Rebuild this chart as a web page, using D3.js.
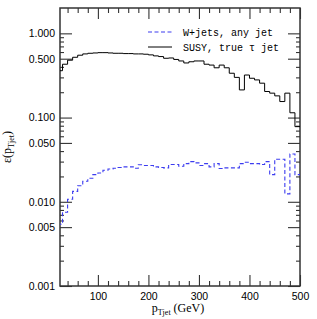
<!DOCTYPE html>
<html>
<head>
<meta charset="utf-8">
<script src="https://cdn.jsdelivr.net/npm/d3@7"></script>
<style>
  body { margin: 0; background: #fff; }
  svg text { fill: #000; }
  .tk text { font-family: "Liberation Sans", Arial, sans-serif; font-size: 10.5px; }
  .tk path { display: none; }
  .tk line { stroke: #333; stroke-width: 1.1; }
</style>
</head>
<body>
<div id="chart"></div>
<script>
// bin lower edges (GeV), 10 GeV wide
var binLow = [20, 30, 40, 50, 60, 70, 80, 90, 100, 110, 120, 130, 140, 150, 160, 170,
              180, 190, 200, 210, 220, 230, 240, 250, 260, 270, 280, 290, 300, 310, 320, 330,
              340, 350, 360, 370, 380, 390, 400, 410, 420, 430, 440, 450, 460, 470, 480, 490];
var binWidth = 10;

var wjets = [0.0054, 0.0075, 0.0107, 0.0133, 0.0155, 0.0175, 0.019, 0.021, 0.022, 0.0237, 0.0245, 0.025, 0.0255, 0.026, 0.026, 0.025,
             0.0275, 0.027, 0.027, 0.026, 0.0255, 0.0253, 0.0277, 0.0277, 0.0264, 0.0284, 0.030, 0.029, 0.027, 0.0284, 0.026, 0.0284,
             0.0248, 0.0253, 0.0253, 0.0253, 0.0284, 0.0295, 0.0284, 0.0284, 0.0277, 0.030, 0.021, 0.032, 0.032, 0.0124, 0.037, 0.021];

var susy = [0.36, 0.43, 0.48, 0.52, 0.55, 0.57, 0.58, 0.585, 0.59, 0.59, 0.585, 0.58, 0.58, 0.575, 0.575, 0.57,
            0.57, 0.565, 0.555, 0.54, 0.53, 0.506, 0.51, 0.49, 0.47, 0.445, 0.46, 0.47, 0.47, 0.43, 0.42, 0.39,
            0.42, 0.39, 0.336, 0.30, 0.213, 0.32, 0.293, 0.28, 0.256, 0.204, 0.195, 0.181, 0.155, 0.195, 0.114, 0.078];

var xMajor = [100, 200, 300, 400, 500];
var xMinor = [40, 60, 80, 120, 140, 160, 180, 220, 240, 260, 280, 320, 340, 360, 380, 420, 440, 460, 480];
var yLabelled = [0.001, 0.005, 0.01, 0.05, 0.1, 0.5, 1];
var yMinor = [0.002, 0.003, 0.004, 0.006, 0.007, 0.008, 0.009,
              0.02, 0.03, 0.04, 0.06, 0.07, 0.08, 0.09,
              0.2, 0.3, 0.4, 0.6, 0.7, 0.8, 0.9];

var legendNames = ["W+jets, any jet", "SUSY, true \u03c4 jet"];

var W = 317, H = 319;
var margin = {left: 60, right: 17, top: 8, bottom: 33};
var iw = W - margin.left - margin.right, ih = H - margin.top - margin.bottom;

var svg = d3.select("#chart").append("svg").attr("width", W).attr("height", H);
var g = svg.append("g").attr("transform", "translate(" + margin.left + "," + margin.top + ")");

var x = d3.scaleLinear().domain([25, 500]).range([0, iw]);
var y = d3.scaleLog().domain([0.001, 2]).range([ih, 0]);

svg.append("defs").append("clipPath").attr("id", "clip")
  .append("rect").attr("width", iw).attr("height", ih);

// axes: ticks drawn inward on all four sides
function addAxis(axis, tr, vals, size, labels) {
  var a = axis.tickValues(vals).tickSize(-size).tickPadding(labels ? 5 : 0);
  if (!labels) a.tickFormat("");
  var ag = g.append("g").attr("class", "tk").attr("transform", tr).call(a);
  return ag;
}
addAxis(d3.axisLeft(y), null, yMinor, 4, false);
addAxis(d3.axisLeft(y).tickFormat(d3.format(".3f")), null, yLabelled, 12, true);
addAxis(d3.axisRight(y), "translate(" + iw + ",0)", yMinor, 4, false);
addAxis(d3.axisRight(y), "translate(" + iw + ",0)", yLabelled, 12, false);
addAxis(d3.axisBottom(x), "translate(0," + ih + ")", xMinor, 5, false);
var bx = addAxis(d3.axisBottom(x).tickFormat(d3.format("d")), "translate(0," + ih + ")", xMajor, 11, true);
bx.selectAll("text").attr("y", 7);
addAxis(d3.axisTop(x), null, xMinor, 5, false);
addAxis(d3.axisTop(x), null, xMajor, 11, false);

g.append("rect").attr("width", iw).attr("height", ih)
  .attr("fill", "none").attr("stroke", "#333").attr("stroke-width", 1.5);

// histograms
var step = d3.line().curve(d3.curveStepAfter)
  .x(function(d) { return x(d[0]); })
  .y(function(d) { return y(d[1]); });

function histPts(vals) {
  var pts = binLow.map(function(b, i) { return [b, vals[i]]; });
  pts.push([binLow[binLow.length - 1] + binWidth, vals[vals.length - 1]]);
  return pts;
}

var plot = g.append("g").attr("clip-path", "url(#clip)");
plot.append("path").attr("d", step(histPts(wjets)))
  .attr("fill", "none").attr("stroke", "#3c3cf0").attr("stroke-width", 1.1)
  .attr("stroke-dasharray", "4,2.5");
plot.append("path").attr("d", step(histPts(susy)))
  .attr("fill", "none").attr("stroke", "#000").attr("stroke-width", 1);

// legend
var leg = svg.append("g").attr("transform", "translate(148,32)");
leg.append("line").attr("x1", 0).attr("x2", 24).attr("y1", 0).attr("y2", 0)
  .attr("stroke", "#3c3cf0").attr("stroke-width", 1.1).attr("stroke-dasharray", "4,2.5");
leg.append("line").attr("x1", 0).attr("x2", 24).attr("y1", 15).attr("y2", 15)
  .attr("stroke", "#000").attr("stroke-width", 1);
leg.selectAll("text.lg").data(legendNames).enter().append("text")
  .attr("class", "lg")
  .attr("x", 35).attr("y", function(d, i) { return i * 15 + 3.5; })
  .style("font-family", "'Liberation Mono', 'Courier New', monospace")
  .style("font-size", "10px")
  .text(function(d) { return d; });

// axis titles
var serif = "'Liberation Serif', 'Times New Roman', serif";
var xt = svg.append("text").attr("x", 178).attr("y", 312)
  .attr("text-anchor", "middle").style("font-family", serif).style("font-size", "12px");
xt.append("tspan").text("p");
xt.append("tspan").attr("dy", 2.5).style("font-size", "8px").text("Tjet");
xt.append("tspan").attr("dy", -2.5).text(" (GeV)");

var yt = svg.append("text").attr("transform", "translate(11,147) rotate(-90)")
  .attr("text-anchor", "middle").style("font-family", serif).style("font-size", "12px");
yt.append("tspan").text("\u03b5(p");
yt.append("tspan").attr("dy", 2.5).style("font-size", "8px").text("Tjet");
yt.append("tspan").attr("dy", -2.5).text(")");
</script>
</body>
</html>
